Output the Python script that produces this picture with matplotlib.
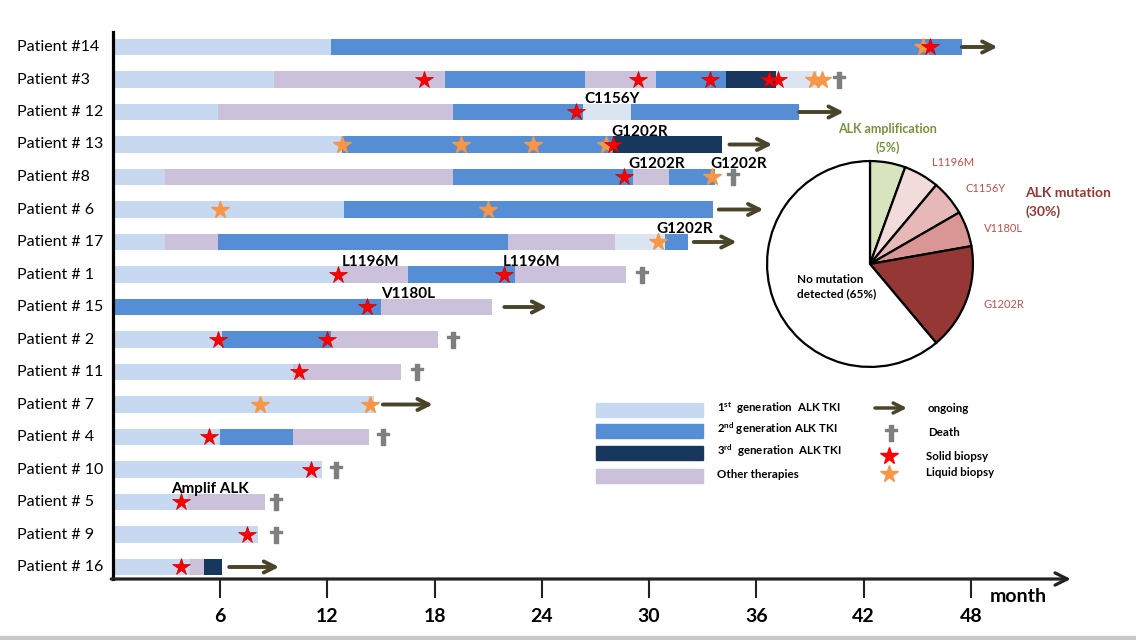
import matplotlib
matplotlib.use('Agg')
import matplotlib.pyplot as plt
from matplotlib.patches import Rectangle
from matplotlib.path import Path
import numpy as np

plt.rcParams['font.family'] = ['Lato', 'DejaVu Sans']
plt.rcParams['mathtext.fontset'] = 'custom'
plt.rcParams['mathtext.rm'] = 'Lato:bold'
plt.rcParams['mathtext.default'] = 'rm'

# ---- data (months) ----
patients = ['Patient #14', 'Patient #3', 'Patient # 12', 'Patient # 13', 'Patient #8',
            'Patient # 6', 'Patient # 17', 'Patient # 1', 'Patient # 15', 'Patient # 2',
            'Patient # 11', 'Patient # 7', 'Patient # 4', 'Patient # 10', 'Patient # 5',
            'Patient # 9', 'Patient # 16']

# treatment segments per patient: (start, end, therapy)
segments = [
    [(0, 12.2, '1'), (12.2, 47.5, '2')],
    [(0, 9.0, '1'), (9.0, 18.6, 'O'), (18.6, 26.4, '2'), (26.4, 30.4, 'O'),
     (30.4, 34.3, '2'), (34.3, 37.1, '3'), (37.1, 39.4, '1b')],
    [(0, 5.9, '1'), (5.9, 19.0, 'O'), (19.0, 26.3, '2'), (26.3, 29.0, '1b'), (29.0, 38.4, '2')],
    [(0, 12.8, '1'), (12.8, 28.0, '2'), (28.0, 34.1, '3')],
    [(0, 2.9, '1'), (2.9, 19.0, 'O'), (19.0, 29.1, '2'), (29.1, 31.1, 'O'), (31.1, 33.7, '2')],
    [(0, 12.9, '1'), (12.9, 33.6, '2')],
    [(0, 2.9, '1'), (2.9, 5.9, 'O'), (5.9, 22.1, '2'), (22.1, 28.1, 'O'),
     (28.1, 30.9, '1b'), (30.9, 32.2, '2')],
    [(0, 12.8, '1'), (12.8, 16.5, 'O'), (16.5, 22.5, '2'), (22.5, 28.7, 'O')],
    [(0, 15.0, '2'), (15.0, 21.2, 'O')],
    [(0, 6.1, '1'), (6.1, 12.2, '2'), (12.2, 18.2, 'O')],
    [(0, 10.1, '1'), (10.1, 16.1, 'O')],
    [(0, 14.6, '1')],
    [(0, 6.0, '1'), (6.0, 10.1, '2'), (10.1, 14.3, 'O')],
    [(0, 11.7, '1')],
    [(0, 4.2, '1'), (4.2, 8.5, 'O')],
    [(0, 8.1, '1')],
    [(0, 4.3, '1'), (4.3, 5.1, 'O'), (5.1, 6.1, '3')],
]

solid_biopsy = {0: [45.7], 1: [17.4, 29.4, 33.4, 36.7, 37.2], 2: [25.9], 3: [28.0],
                4: [28.6], 7: [12.6, 21.9], 8: [14.2], 9: [5.9, 12.0], 10: [10.4],
                12: [5.4], 13: [11.1], 14: [3.8], 15: [7.5], 16: [3.8]}
liquid_biopsy = {0: [45.3], 1: [39.2, 39.7], 3: [12.8, 19.5, 23.5, 27.6], 4: [33.5],
                 5: [6.0, 21.0], 6: [30.5], 11: [8.2, 14.4]}
death = {1: 40.6, 4: 34.7, 7: 29.6, 9: 19.0, 10: 17.0, 12: 15.1, 13: 12.5, 14: 9.1, 15: 9.1}
ongoing = {0: (47.5, 49.5), 2: (38.4, 40.9), 3: (34.5, 36.9), 5: (33.9, 36.4),
           6: (32.5, 34.9), 8: (21.9, 24.3), 11: (15.1, 17.9), 16: (6.5, 9.3)}
mutations = [(2, 27.9, 'C1156Y'), (3, 29.5, 'G1202R'), (4, 30.4, 'G1202R'), (4, 35.0, 'G1202R'),
             (6, 32.0, 'G1202R'), (7, 14.4, 'L1196M'), (7, 23.4, 'L1196M'),
             (8, 16.5, 'V1180L'), (14, 5.4, 'Amplif ALK')]

month_ticks = [6, 12, 18, 24, 30, 36, 42, 48]

pie_labels = ['ALK amplification', 'L1196M', 'C1156Y', 'V1180L', 'G1202R', 'No mutation']
pie_sizes = [1, 1, 1, 1, 3, 11]

colors = {'1': '#c6d9f1', '1b': '#dbe5f1', '2': '#558ed5', '3': '#17375e', 'O': '#ccc1da'}
pie_colors = ['#d7e4bd', '#f2dcdb', '#e6b9b8', '#d99694', '#953735', 'white']
ARROW = '#4a452a'
RED = '#ff0000'
ORANGE = '#f79646'
GREY = '#7f7f7f'

# latin cross marker for death
_w = 0.22
cross = Path([(-_w, -1), (_w, -1), (_w, 0.2), (0.8, 0.2), (0.8, 0.58), (_w, 0.58),
              (_w, 1), (-_w, 1), (-_w, 0.58), (-0.8, 0.58), (-0.8, 0.2), (-_w, 0.2),
              (-_w, -1)], closed=True)

W, H = 1136, 640
fig = plt.figure(figsize=(W / 100, H / 100), dpi=100)

# main swimmer axes: x=0 at px 113, 17.87 px per month; rows 32.5 px apart
px_m = 17.87
xmax = (W - 113) / px_m
ytop, ybot = (32 - 47) / 32.5, (579 - 47) / 32.5
ax = fig.add_axes([113 / W, (H - 579) / H, 1 - 113 / W, (579 - 32) / H])
ax.set_xlim(0, xmax)
ax.set_ylim(ybot, ytop)

for i, segs in enumerate(segments):
    for s, e, t in segs:
        ax.barh(i, e - s, left=s, height=0.5, color=colors[t], zorder=2)

for i, xs in liquid_biopsy.items():
    ax.plot(xs, [i] * len(xs), '*', ms=13, color=ORANGE, mec=ORANGE, zorder=4, clip_on=False)
for i, xs in solid_biopsy.items():
    ax.plot(xs, [i] * len(xs), '*', ms=13, color=RED, mec='#d00000', mew=0.5, zorder=5, clip_on=False)
for i, x in death.items():
    ax.plot(x, i, marker=cross, ms=11, color=GREY, mec=GREY, ls='none', zorder=4)
for i, (s, e) in ongoing.items():
    ax.annotate('', xy=(e, i), xytext=(s, i),
                arrowprops=dict(arrowstyle='->', lw=2.8, color=ARROW, mutation_scale=20,
                                shrinkA=0, shrinkB=0), zorder=4)
for i, x, txt in mutations:
    ax.text(x, i - 0.4, txt, ha='center', va='center', fontsize=11, fontweight='bold', zorder=6)

for i, name in enumerate(patients):
    ax.text((17 - 113) / (W - 113), i, name, transform=ax.get_yaxis_transform(),
            ha='left', va='center', fontsize=11.5)

# axes styling
for side in ['top', 'right', 'bottom']:
    ax.spines[side].set_visible(False)
ax.spines['left'].set_linewidth(2.3)
ax.set_yticks([])
ax.set_xticks(month_ticks)
ax.set_xticklabels([str(t) for t in month_ticks], fontsize=14, fontweight='bold')
ax.tick_params(axis='x', direction='out', length=14, width=1.5, pad=7, color='#222222')
ax.patch.set_visible(False)
ax.annotate('', xy=(53.6, 0), xytext=(-0.1, 0), xycoords=('data', 'axes fraction'),
            arrowprops=dict(arrowstyle='->', lw=2.3, color='#222222', mutation_scale=22,
                            shrinkA=0, shrinkB=0), annotation_clip=False)

# pie
r = 105
axp = fig.add_axes([(870 - r) / W, (H - 264 - r) / H, 2 * r / W, 2 * r / H])
axp.pie(pie_sizes, colors=pie_colors, startangle=90, counterclock=False,
        wedgeprops=dict(edgecolor='black', linewidth=1.6))
axp.set_aspect('auto')
axp.set_xlim(-1.02, 1.02)
axp.set_ylim(-1.02, 1.02)

# overlay in pixel coordinates for legend and pie texts
ov = fig.add_axes([0, 0, 1, 1])
ov.set_xlim(0, W)
ov.set_ylim(H, 0)
ov.axis('off')
ov.patch.set_visible(False)

ov.text(1018, 597, 'month', ha='center', va='center', fontsize=14, fontweight='bold')

leg_rows = [410, 431, 453, 476]
leg_cols = [colors['1'], colors['2'], colors['3'], colors['O']]
leg_txt = ['1$^{st}$  generation  ALK TKI', '2$^{nd}$ generation ALK TKI',
           '3$^{rd}$  generation  ALK TKI', 'Other therapies']
for y, c, t in zip(leg_rows, leg_cols, leg_txt):
    ov.add_patch(Rectangle((596, y - 7), 107, 14, color=c))
    ov.text(717, y - 2, t, ha='left', va='center', fontsize=8.3, fontweight='bold')

ov.annotate('', xy=(907, 408), xytext=(875, 408),
            arrowprops=dict(arrowstyle='->', lw=2.5, color=ARROW, mutation_scale=18,
                            shrinkA=0, shrinkB=0))
ov.plot(891, 433, marker=cross, ms=11, color=GREY, ls='none')
ov.plot(889, 456, '*', ms=13, color=RED)
ov.plot(889, 474, '*', ms=13, color=ORANGE)
ov.text(928, 408, 'ongoing', ha='left', va='center', fontsize=8.3, fontweight='bold')
ov.text(928, 433, 'Death', ha='left', va='center', fontsize=8.3, fontweight='bold')
ov.text(926, 456, 'Solid biopsy', ha='left', va='center', fontsize=8.3, fontweight='bold')
ov.text(926, 473, 'Liquid biopsy', ha='left', va='center', fontsize=8.3, fontweight='bold')

ov.text(888, 129, 'ALK amplification', ha='center', va='center', fontsize=9,
        fontweight='bold', color='#77933c')
ov.text(888, 148, '(5%)', ha='center', va='center', fontsize=9, fontweight='bold', color='#77933c')
for (x, y), t in zip([(932, 163), (965, 189), (984, 228), (984, 304)], pie_labels[1:5]):
    ov.text(x, y, t, ha='left', va='center', fontsize=8, color='#c0504d')
ov.text(1025, 193, 'ALK mutation', ha='left', va='center', fontsize=10,
        fontweight='bold', color='#953735')
ov.text(1025, 212, '(30%)', ha='left', va='center', fontsize=10, fontweight='bold', color='#953735')
ov.text(797, 287, 'No mutation\ndetected (65%)', ha='left', va='center', fontsize=8.5,
        fontweight='bold', linespacing=1.35)

ov.add_patch(Rectangle((0, 636), W, 4, color='#c8c8c8'))

fig.savefig('out.png', dpi=100, facecolor='white')
